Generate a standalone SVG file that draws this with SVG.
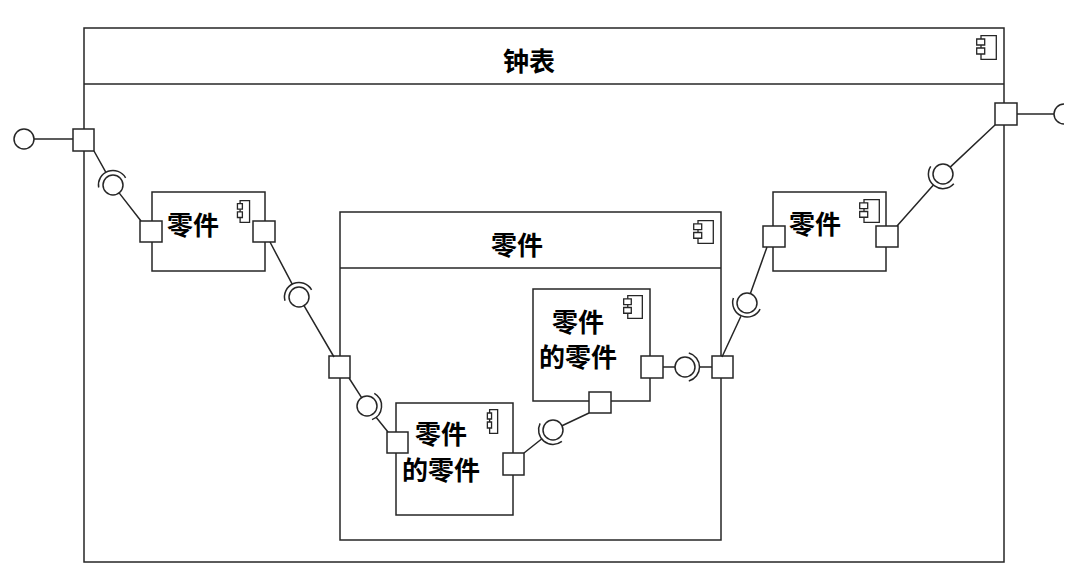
<svg xmlns="http://www.w3.org/2000/svg" xmlns:xlink="http://www.w3.org/1999/xlink" width="1080" height="583" viewBox="0 0 1080 583">
<defs>
<style>
.box{fill:#fff;stroke:#262626;stroke-width:1.5}
.port{fill:#fff;stroke:#262626;stroke-width:1.5}
.ln{fill:none;stroke:#262626;stroke-width:1.5}
.ball{fill:#fff;stroke:#262626;stroke-width:1.5}
.sock{fill:none;stroke:#262626;stroke-width:1.5}
.t{font-family:"Noto Sans CJK SC","Noto Sans",sans-serif;font-weight:bold;font-size:26px;fill:#000;text-anchor:middle}
.ic{fill:#fff;stroke:#262626;stroke-width:1.3;vector-effect:non-scaling-stroke}
</style>
<symbol id="icon" viewBox="0 0 21 25" preserveAspectRatio="none" overflow="visible">
<rect class="ic" x="5" y="0.7" width="15.3" height="23.6"/>
<rect class="ic" x="0.7" y="4" width="8" height="6"/>
<rect class="ic" x="0.7" y="13" width="8" height="6"/>
</symbol>
</defs>
<rect width="1080" height="583" fill="#fff"/>

<g id="clock">
<rect class="box" x="84" y="28" width="920" height="534"/>
<line class="ln" x1="84" y1="84" x2="1004" y2="84"/>
<text class="t" x="529" y="71">钟表</text>
<use xlink:href="#icon" x="976" y="35" width="21" height="25"/>
<rect class="port" x="73" y="129" width="21" height="22"/>
<rect class="port" x="995" y="103" width="22" height="22"/>
</g>

<g id="part-left">
<rect class="box" x="152" y="192" width="113" height="79"/>
<text class="t" x="193" y="235">零件</text>
<use xlink:href="#icon" x="237" y="200" width="13" height="23"/>
<rect class="port" x="140" y="221" width="22" height="21"/>
<rect class="port" x="253" y="221" width="22" height="21"/>
</g>

<g id="part-middle">
<rect class="box" x="340" y="212" width="381" height="328"/>
<line class="ln" x1="340" y1="268" x2="721" y2="268"/>
<text class="t" x="517" y="255">零件</text>
<use xlink:href="#icon" x="693" y="220" width="21" height="24"/>
<rect class="port" x="329" y="356" width="21" height="22"/>
<rect class="port" x="712" y="356" width="21" height="22"/>
</g>

<g id="subpart-a">
<rect class="box" x="533" y="289" width="117" height="112"/>
<text class="t" x="578" y="332">零件</text>
<text class="t" x="578" y="367">的零件</text>
<use xlink:href="#icon" x="623" y="295" width="20" height="24"/>
<rect class="port" x="641" y="356" width="22" height="22"/>
<rect class="port" x="589" y="392" width="22" height="21"/>
</g>

<g id="subpart-b">
<rect class="box" x="396" y="403" width="117" height="112"/>
<text class="t" x="441" y="444">零件</text>
<text class="t" x="441" y="480">的零件</text>
<use xlink:href="#icon" x="487" y="409" width="11" height="25"/>
<rect class="port" x="387" y="432" width="21" height="21"/>
<rect class="port" x="503" y="453" width="21" height="22"/>
</g>

<g id="part-right">
<rect class="box" x="773" y="192" width="113" height="79"/>
<text class="t" x="815" y="234">零件</text>
<use xlink:href="#icon" x="859" y="199" width="21" height="24"/>
<rect class="port" x="763" y="226" width="22" height="21"/>
<rect class="port" x="876" y="226" width="22" height="21"/>
</g>

<g id="connectors">
<!-- left provided interface -->
<line class="ln" x1="34" y1="139" x2="73" y2="139"/>
<circle class="ball" cx="24" cy="139" r="10"/>
<!-- right required interface -->
<line class="ln" x1="1017" y1="114" x2="1054" y2="114"/>
<path class="sock" d="M1064,124 A10,10 0 0 1 1064,104"/>

<!-- B1 -->
<path class="ln" d="M94,151 L105.9,172.3 M119.1,192.9 L141,221"/>
<circle class="ball" cx="113" cy="185" r="10"/>
<path class="sock" d="M98.7,187.5 A14.5,14.5 0 0 1 125.6,177.8"/>
<!-- B2 -->
<path class="ln" d="M270,242 L292.2,284.2 M304,305.6 L334,357"/>
<circle class="ball" cx="299" cy="297" r="10"/>
<path class="sock" d="M285,300.8 A14.5,14.5 0 0 1 311.6,289.8"/>
<!-- B3 -->
<path class="ln" d="M349,378 L361.6,397.6 M376.1,417.3 L388,432"/>
<circle class="ball" cx="367" cy="406" r="10"/>
<path class="sock" d="M374.3,393.4 A14.5,14.5 0 0 1 372,419.6"/>
<!-- B4 -->
<path class="ln" d="M524,453 L541.6,439 M562,425.7 L589,413"/>
<circle class="ball" cx="553" cy="430" r="10"/>
<path class="sock" d="M561.9,441.4 A14.5,14.5 0 0 1 540.1,423.4"/>
<!-- B7 -->
<path class="ln" d="M663,367 L675,367 M699.5,367 L712,367"/>
<circle class="ball" cx="685" cy="367" r="10"/>
<path class="sock" d="M688.8,353 A14.5,14.5 0 0 1 688.8,381"/>
<!-- B5 -->
<path class="ln" d="M722,357 L740.9,316.2 M750.4,293.6 L767,247"/>
<circle class="ball" cx="747" cy="303" r="10"/>
<path class="sock" d="M760.1,309.1 A14.5,14.5 0 0 1 733.4,298"/>
<!-- B6 -->
<path class="ln" d="M897,226 L933.4,184.9 M950.2,167.1 L995,125"/>
<circle class="ball" cx="943" cy="174" r="10"/>
<path class="sock" d="M953.8,183.7 A14.5,14.5 0 0 1 930.7,166.3"/>
</g>
</svg>
